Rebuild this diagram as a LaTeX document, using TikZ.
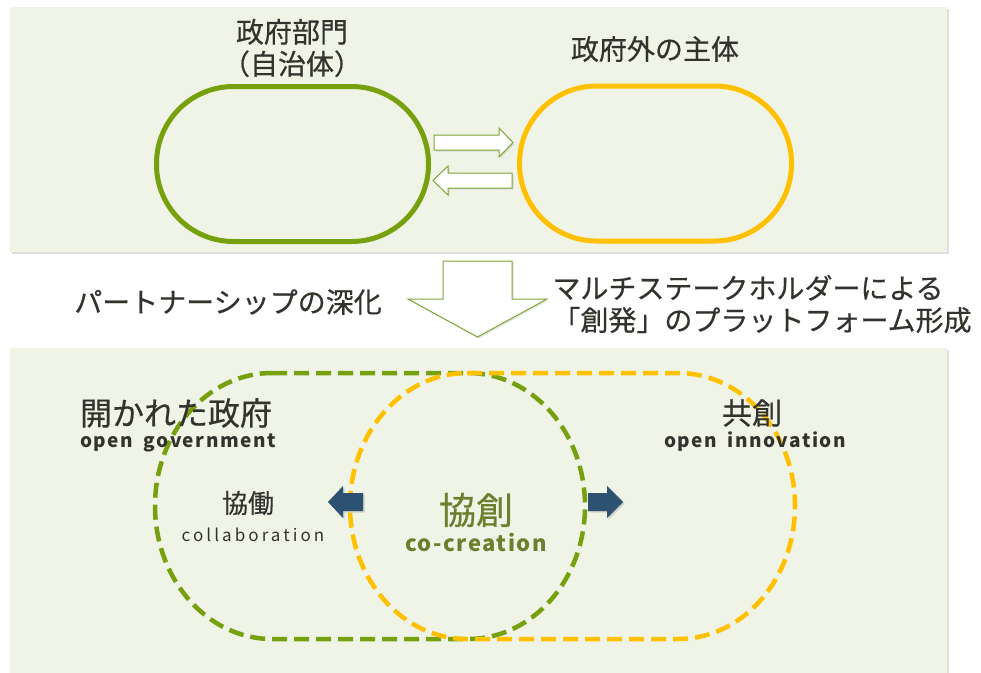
\documentclass[tikz,border=0pt]{standalone}
\usepackage{fontspec}
\usepackage{xcolor}
\usepackage{tikz}
\usetikzlibrary{shadows}
\newfontfamily\jpfont{Noto Sans CJK JP}[FakeBold=0.5]
\newfontfamily\enfont{Noto Sans CJK JP}
\newfontfamily\enwide{Noto Sans CJK JP}[WordSpace=1.8, LetterSpace=8]

\definecolor{panelbg}{HTML}{F0F4E6}
\definecolor{govgreen}{HTML}{76A00E}
\definecolor{outyellow}{HTML}{FFC000}
\definecolor{linegreen}{HTML}{7FA533}
\definecolor{navyarrow}{HTML}{2D5271}
\definecolor{inkdark}{HTML}{33332E}
\definecolor{olivetext}{HTML}{6B7F2E}

\tikzset{
  panel/.style={fill=panelbg, drop shadow={opacity=0.25, shadow xshift=2pt, shadow yshift=-2pt}},
  jptext/.style={font=\jpfont\fontsize{28}{32}\selectfont, text=inkdark, inner sep=0pt, align=center},
  entext/.style={font=\enwide\bfseries\fontsize{19}{22}\selectfont, text=inkdark, inner sep=0pt},
  blob/.style={draw, line width=5pt, minimum width=272pt, minimum height=155pt, rounded corners=77pt, inner sep=0pt},
  hollow/.style={draw=linegreen, fill=white, line width=1pt, line join=miter,
      drop shadow={opacity=0.2, shadow xshift=1.5pt, shadow yshift=-1.5pt}},
  navyarr/.style={fill=navyarrow, drop shadow={opacity=0.3, shadow xshift=1.5pt, shadow yshift=-1.5pt}},
  dashloop/.style={line width=4.5pt, dash pattern=on 15pt off 7pt}
}

\begin{document}
\begin{tikzpicture}[x=1pt, y=-1pt]
    \useasboundingbox (0,0) rectangle (981,672);

    % two panels
    \path[panel] (10,7) rectangle (947,252);
    \path[panel] (10,348) rectangle (947,680);

    % upper part
    \node (gov) [blob, draw=govgreen] at (292.5,164) {};
    \node (outside) [blob, draw=outyellow] at (655.5,163.5) {};
    \node (govname) [jptext] at (292,48) {政府部門\\（自治体）};
    \node (outname) [jptext] at (655,49) {政府外の主体};
    \path[hollow] (434,135) -- (499,135) -- (499,128) -- (513,142.5) -- (499,157) -- (499,150) -- (434,150) -- cycle;
    \path[hollow] (512,173) -- (448,173) -- (448,166) -- (433,180.5) -- (448,195) -- (448,188) -- (512,188) -- cycle;

    % deepening
    \path[hollow] (443,261) -- (512,261) -- (512,299) -- (547,299) -- (477.5,337) -- (408,299) -- (443,299) -- cycle;
    \node (partner) [jptext] at (228,302) {パートナーシップの深化};
    \node (multi) [jptext, align=left] at (762,304) {マルチステークホルダーによる\\「創発」のプラットフォーム形成};

    % lower part
    \draw[dashloop, govgreen] (272,373) -- (468,373)
        arc[start angle=90, end angle=-90, x radius=117pt, y radius=133pt] -- (272,639)
        arc[start angle=270, end angle=90, x radius=117pt, y radius=133pt] -- cycle;
    \draw[dashloop, outyellow] (467,373) -- (678,373)
        arc[start angle=90, end angle=-90, x radius=117pt, y radius=133pt] -- (467,639)
        arc[start angle=270, end angle=90, x radius=117pt, y radius=133pt] -- cycle;

    \node (opengov) [jptext, font=\jpfont\fontsize{32}{36}\selectfont] at (176,413) {開かれた政府};
    \node (opengoven) [entext] at (178,443) {open government};
    \node (collab) [jptext, font=\jpfont\fontsize{26}{30}\selectfont] at (248,503) {協働};
    \node (collaben) [jptext, font=\enfont\fontsize{17}{20}\selectfont\addfontfeature{LetterSpace=18}] at (253,535) {collaboration};
    \node (cocreate) [jptext, text=olivetext, font=\jpfont\fontsize{37}{40}\selectfont] at (476,510) {協創};
    \node (cocreateen) [entext, text=olivetext, font=\enfont\bfseries\fontsize{22}{25}\selectfont\addfontfeature{LetterSpace=7}] at (476,543) {co-creation};
    \node (coinno) [jptext, font=\jpfont\fontsize{30}{34}\selectfont] at (752,413) {共創};
    \node (coinnoen) [entext] at (755,442) {open innovation};

    \path[navyarr] (363,493) -- (343,493) -- (343,486) -- (328,502) -- (343,518) -- (343,511) -- (363,511) -- cycle;
    \path[navyarr] (588,493) -- (607,493) -- (607,486) -- (623,502) -- (607,518) -- (607,511) -- (588,511) -- cycle;
\end{tikzpicture}
\end{document}
